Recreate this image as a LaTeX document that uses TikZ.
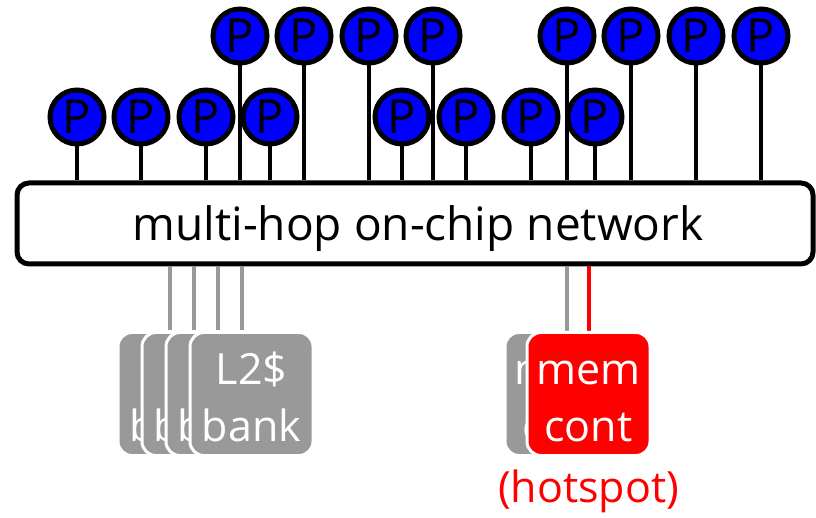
\documentclass[tikz,border=0pt]{standalone}
\usepackage{fontspec}
\setmainfont{Open Sans}
\usepackage{tikz}
\usepackage{xcolor}
\usetikzlibrary{positioning}
\definecolor{netgray}{RGB}{153,153,153}

\begin{document}
\begin{tikzpicture}[x=1pt, y=-1pt,
      proc/.style={circle, fill=blue, draw=black, line width=5pt, minimum size=54pt, inner sep=0pt, font=\fontsize{47}{47}\selectfont},
      stem/.style={line width=4.5pt, draw=black},
      bank/.style={rectangle, rounded corners=14pt, fill=netgray, draw=white, line width=3pt, text=white, align=center,
                   minimum width=123pt, minimum height=123pt, font=\fontsize{43}{57}\selectfont},
      link/.style={line width=4pt, draw=netgray}
    ]
      \useasboundingbox (0,0) rectangle (816,518);
      \node[rectangle, rounded corners=12pt, draw=black, fill=white, line width=5pt, minimum width=796pt, minimum height=81pt] (net) at (415,223.5) {};
      \node[font=\fontsize{46}{46}\selectfont] (nettext) at ([xshift=3pt, yshift=-5pt]net.center) {multi-hop on-chip network};

      % upper row of processors
      \node[proc] (t1) at (240,36) {P};
      \node[proc] (t2) at (304,36) {P};
      \node[proc] (t3) at (369,36) {P};
      \node[proc] (t4) at (433,36) {P};
      \node[proc] (t5) at (567,36) {P};
      \node[proc] (t6) at (631,36) {P};
      \node[proc] (t7) at (696,36) {P};
      \node[proc] (t8) at (761,36) {P};
      \foreach \n in {t1,t2,t3,t4,t5,t6,t7,t8}
        \draw[stem] (\n.south) -- (\n.south |- net.north);

      % lower row of processors
      \node[proc] (b1) at (77,117) {P};
      \node[proc] (b2) at (141,117) {P};
      \node[proc] (b3) at (206,117) {P};
      \node[proc] (b4) at (270,117) {P};
      \node[proc] (b5) at (402,117) {P};
      \node[proc] (b6) at (466,117) {P};
      \node[proc] (b7) at (531,117) {P};
      \node[proc] (b8) at (595,117) {P};
      \foreach \n in {b1,b2,b3,b4,b5,b6,b7,b8}
        \draw[stem] (\n.south) -- (\n.south |- net.north);

      % cache banks
      \coordinate (l1) at (170,330);
      \coordinate (l2) at (194,330);
      \coordinate (l3) at (218,330);
      \coordinate (l4) at (242,330);
      \foreach \n in {l1,l2,l3,l4}
        \draw[link] (\n) -- (\n |- net.south);
      \node[bank] (c1) at (179.5,394) {\rule{0pt}{38pt}L2\$\\bank};
      \node[bank] (c2) at (203.5,394) {\rule{0pt}{38pt}L2\$\\bank};
      \node[bank] (c3) at (227.5,394) {\rule{0pt}{38pt}L2\$\\bank};
      \node[bank] (c4) at (251.5,394) {\rule{0pt}{38pt}L2\$\\bank};

      % memory controllers
      \node[bank] (m1) at (566.5,394) {\rule{0pt}{38pt}mem\\cont};
      \draw[link] (m1.north) -- (m1.north |- net.south);
      \draw[link, draw=red] ([xshift=22pt]m1.north) -- ([xshift=22pt]m1.north |- net.south);
      \node[bank, fill=red] (m2) at (588.5,394) {\rule{0pt}{38pt}mem\\cont};
      \node[text=red, font=\fontsize{43}{43}\selectfont, below=9pt of m2] (hot) {(hotspot)};
    \end{tikzpicture}
\end{document}
